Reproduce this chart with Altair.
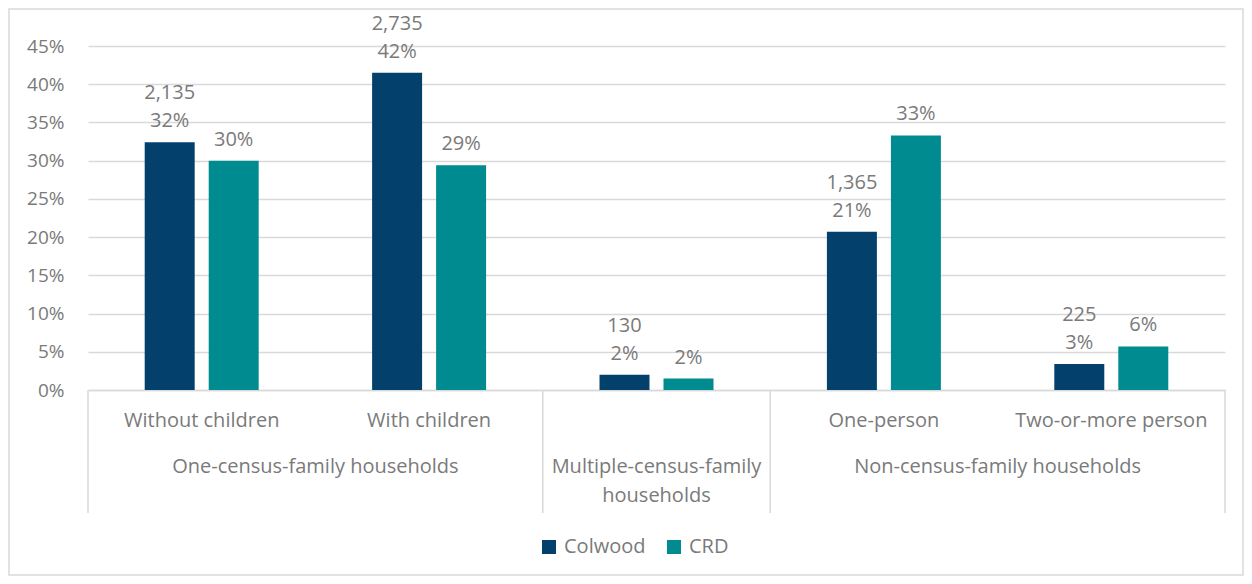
import altair as alt
import pandas as pd

categories = ["Without children", "With children", "Multiple-census-family households",
              "One-person", "Two-or-more person"]
sub_labels = ["Without children", "With children", "", "One-person", "Two-or-more person"]
series = ["Colwood", "CRD"]
colwood_pct = [32.4, 41.5, 2.0, 20.7, 3.4]
colwood_count = [2135, 2735, 130, 1365, 225]
crd_pct = [30.0, 29.4, 1.5, 33.3, 5.7]
y_ticks = [0, 5, 10, 15, 20, 25, 30, 35, 40, 45]

group_edge_labels = ["One-census-family households", "Non-census-family households"]
group_edge_anchor = ["With children", "Two-or-more person"]
group_mid_label = [["Multiple-census-family", "households"]]
group_mid_anchor = ["Multiple-census-family households"]
sep_start = ["Without children", "Multiple-census-family households", "One-person"]
sep_end = ["Two-or-more person"]

colors = ["#03406B", "#008B91"]
GRAY = "#7a7a7a"
GRID = "#d9d9d9"
FONT = "Open Sans"
FS = 20
W, H = 1137, 344

rows = []
for i, c in enumerate(categories):
    rows.append({"cat": c, "series": "Colwood", "pct": colwood_pct[i], "count": colwood_count[i]})
    rows.append({"cat": c, "series": "CRD", "pct": crd_pct[i], "count": None})
df = pd.DataFrame(rows)

xs = alt.X("cat:N", sort=categories, scale=alt.Scale(paddingInner=0, paddingOuter=0),
           axis=alt.Axis(title=None, labels=False, ticks=False, domainColor=GRID,
                         domainWidth=1.5, grid=False))
xoff = alt.XOffset("series:N", sort=series,
                   scale=alt.Scale(paddingInner=0.219, paddingOuter=0.886))
ys = alt.Y("pct:Q", scale=alt.Scale(domain=[0, 45], nice=False),
           axis=alt.Axis(title=None, values=y_ticks, labelExpr="datum.value + '%'",
                         domain=False, ticks=False, gridColor=GRID, gridWidth=1.5,
                         labelOverlap=False, labelPadding=24, labelFontSize=19,
                         labelColor=GRAY, labelFont=FONT))

base = alt.Chart(df)
bars = base.mark_bar().encode(
    x=xs, xOffset=xoff, y=ys,
    color=alt.Color("series:N", sort=series,
                    scale=alt.Scale(domain=series, range=colors),
                    legend=alt.Legend(title=None, orient="none", legendX=451, legendY=491,
                                      direction="horizontal", symbolType="square",
                                      symbolSize=196, symbolStrokeWidth=0,
                                      labelFontSize=FS, labelColor=GRAY, labelFont=FONT,
                                      columnPadding=18, labelOffset=5)),
)
pct_text = base.transform_calculate(
    label="format(datum.pct, '.0f') + '%'"
).mark_text(dy=-21, fontSize=FS, font=FONT, color=GRAY, baseline="middle").encode(
    x=xs, xOffset=xoff, y=ys, text="label:N")
count_text = base.transform_filter("datum.series == 'Colwood'").mark_text(
    dy=-49, fontSize=FS, font=FONT, color=GRAY, baseline="middle").encode(
    x=xs, xOffset=xoff, y=ys, text=alt.Text("count:Q", format=","))

sub_df = pd.DataFrame({"cat": categories, "lab": sub_labels})
sub_text = alt.Chart(sub_df).mark_text(fontSize=FS, font=FONT, color=GRAY, baseline="middle").encode(
    x=xs, y=alt.value(H + 31), text="lab:N")

edge_df = pd.DataFrame({"cat": group_edge_anchor, "lab": group_edge_labels})
edge_text = alt.Chart(edge_df).mark_text(fontSize=FS, font=FONT, color=GRAY, baseline="middle").encode(
    x=alt.X("cat:N", sort=categories, bandPosition=0), y=alt.value(H + 77), text="lab:N")

mid_df = pd.DataFrame({"cat": group_mid_anchor, "lab": group_mid_label})
mid_text = alt.Chart(mid_df).mark_text(fontSize=FS, font=FONT, color=GRAY, baseline="middle",
                                       lineHeight=29).encode(
    x=xs, y=alt.value(H + 77), text="lab")

sep1 = alt.Chart(pd.DataFrame({"cat": sep_start})).mark_rule(color=GRID, strokeWidth=1.5).encode(
    x=alt.X("cat:N", sort=categories, bandPosition=0), y=alt.value(H), y2=alt.value(H + 123))
sep2 = alt.Chart(pd.DataFrame({"cat": sep_end})).mark_rule(color=GRID, strokeWidth=1.5).encode(
    x=alt.X("cat:N", sort=categories, bandPosition=1), y=alt.value(H), y2=alt.value(H + 123))

border = alt.Chart(pd.DataFrame({"k": [0]})).mark_rect(
    fillOpacity=0, stroke=GRID, strokeWidth=1.5).encode(
    x=alt.value(-79), x2=alt.value(W + 18), y=alt.value(-37), y2=alt.value(H + 185))

chart = alt.layer(border, bars, pct_text, count_text, sub_text, edge_text, mid_text, sep1, sep2).properties(
    width=W, height=H, autosize="none",
    padding={"left": 80, "top": 38, "right": 19, "bottom": 186},
).configure_view(stroke=None)

chart.save("out.html", embed_options={"renderer": "svg", "actions": False})
